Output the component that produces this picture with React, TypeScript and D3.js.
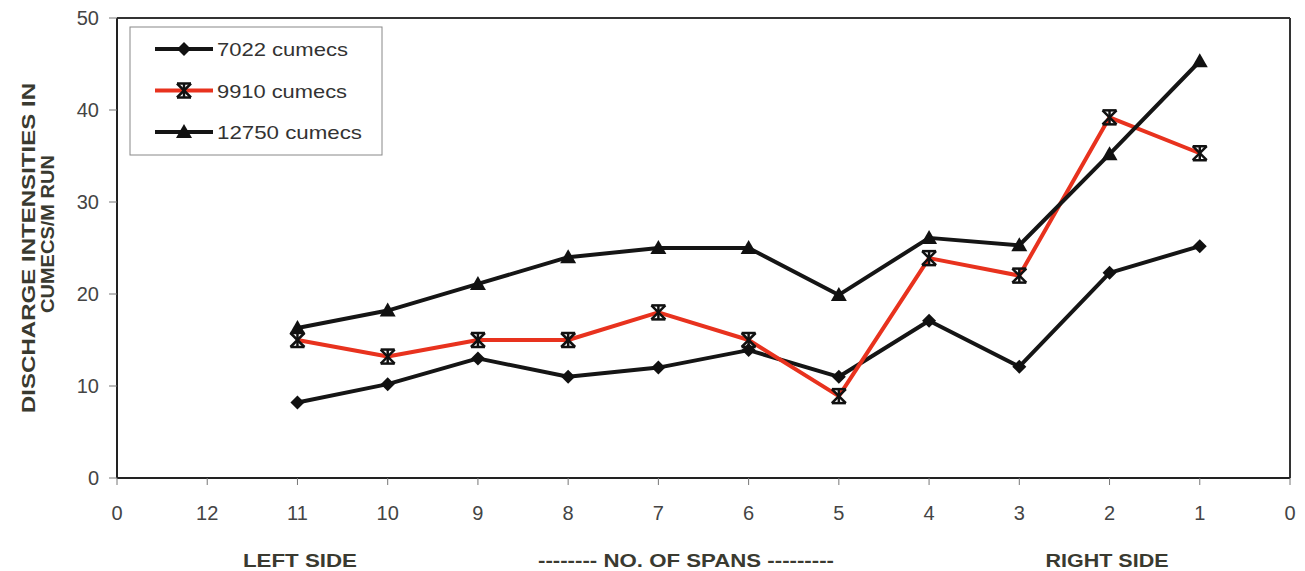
import React from "react";
import * as d3 from "d3";

const xLabels = ["0", "12", "11", "10", "9", "8", "7", "6", "5", "4", "3", "2", "1", "0"];
const spans = ["11", "10", "9", "8", "7", "6", "5", "4", "3", "2", "1"];
const s7022 = [8.2, 10.2, 13.0, 11.0, 12.0, 13.9, 11.0, 17.1, 12.1, 22.3, 25.2];
const s9910 = [15.0, 13.2, 15.0, 15.0, 18.0, 15.0, 8.9, 23.9, 22.0, 39.2, 35.3];
const s12750 = [16.3, 18.2, 21.1, 24.0, 25.0, 25.0, 19.9, 26.1, 25.3, 35.2, 45.3];
const yTicks = [0, 10, 20, 30, 40, 50];
const seriesNames = ["7022 cumecs", "9910 cumecs", "12750 cumecs"];
const legendTextLen = [131, 130, 145];

const W = 1305, H = 571;
const L = 117, R = 1290, T = 18, B = 478;

function Marker({ kind, x, y }: { kind: string; x: number; y: number }) {
  if (kind === "diamond") {
    const s = 7;
    return <path d={`M${x},${y - s}L${x + s},${y}L${x},${y + s}L${x - s},${y}Z`} fill="#111" />;
  }
  if (kind === "star") {
    const s = 7;
    return (
      <g stroke="#111" strokeWidth={2.5}>
        <line x1={x - s} y1={y - s} x2={x + s} y2={y + s} />
        <line x1={x - s} y1={y + s} x2={x + s} y2={y - s} />
        <line x1={x} y1={y - s} x2={x} y2={y + s} />
        <line x1={x - s} y1={y - s} x2={x + s} y2={y - s} />
        <line x1={x - s} y1={y + s} x2={x + s} y2={y + s} />
      </g>
    );
  }
  const s = 8;
  return <path d={`M${x},${y - s}L${x + s},${y + s * 0.75}L${x - s},${y + s * 0.75}Z`} fill="#111" />;
}

export default function App() {
  const x = d3.scalePoint<number>().domain(d3.range(xLabels.length)).range([L, R]);
  const y = d3.scaleLinear().domain([0, 50]).range([B, T]);
  const series = [
    { vals: s7022, color: "#151515", kind: "diamond" },
    { vals: s9910, color: "#e8321e", kind: "star" },
    { vals: s12750, color: "#151515", kind: "triangle" },
  ];
  const xi = (i: number) => x(xLabels.indexOf(spans[i], 1))!;
  const line = d3.line<number>().x((_, i) => xi(i)).y((v) => y(v));
  const font = "Arial, 'Liberation Sans', sans-serif";
  return (
    <svg width={W} height={H} style={{ position: "absolute", left: 0, top: 0, background: "#fff" }} fontFamily={font}>
      <line x1={L} y1={T} x2={R} y2={T} stroke="#333" strokeWidth={2} />
      <line x1={R} y1={T} x2={R} y2={B} stroke="#333" strokeWidth={2} />
      <line x1={L} y1={T} x2={L} y2={B} stroke="#222" strokeWidth={2} />
      <line x1={L} y1={B} x2={R} y2={B} stroke="#222" strokeWidth={2} />
      {yTicks.map((t) => (
        <g key={t}>
          <line x1={L - 8} x2={L} y1={y(t)} y2={y(t)} stroke="#777" strokeWidth={1} />
          <text x={99} y={y(t) + 7} textAnchor="end" fontSize={20} fill="#444">{t}</text>
        </g>
      ))}
      {xLabels.map((lab, i) => (
        <g key={i}>
          <line x1={x(i)} x2={x(i)} y1={B} y2={B + 7} stroke="#777" strokeWidth={1} />
          <text x={x(i)} y={B + 42} textAnchor="middle" fontSize={20} fill="#444">{lab}</text>
        </g>
      ))}
      {series.map((s, k) => (
        <g key={k}>
          <path d={line(s.vals)!} fill="none" stroke={s.color} strokeWidth={4} strokeLinejoin="round" />
          {s.vals.map((v, i) => (
            <Marker key={i} kind={s.kind} x={xi(i)} y={y(v)} />
          ))}
        </g>
      ))}
      <rect x={130} y={27} width={252} height={128} fill="#fff" stroke="#888" strokeWidth={1} />
      {series.map((s, k) => {
        const ly = 49 + k * 41.5;
        return (
          <g key={k}>
            <line x1={155} x2={213} y1={ly} y2={ly} stroke={s.color} strokeWidth={4} />
            <Marker kind={s.kind} x={184} y={ly} />
            <text x={217} y={ly + 7} fontSize={19} fill="#333" textLength={legendTextLen[k]} lengthAdjust="spacingAndGlyphs">{seriesNames[k]}</text>
          </g>
        );
      })}
      <g fontWeight="bold" fontSize={19} fill="#3a3a30">
        <text transform="translate(35,248) rotate(-90)" textAnchor="middle" textLength={330} lengthAdjust="spacingAndGlyphs">DISCHARGE INTENSITIES IN</text>
        <text transform="translate(54,234) rotate(-90)" textAnchor="middle" textLength={158} lengthAdjust="spacingAndGlyphs">CUMECS/M RUN</text>
      </g>
      <g fontWeight="bold" fontSize={19} fill="#3a3a30">
        <text x={300} y={567} textAnchor="middle" textLength={114} lengthAdjust="spacingAndGlyphs">LEFT SIDE</text>
        <text x={686} y={567} textAnchor="middle" textLength={296} lengthAdjust="spacingAndGlyphs">-------- NO. OF SPANS ---------</text>
        <text x={1107} y={567} textAnchor="middle" textLength={123} lengthAdjust="spacingAndGlyphs">RIGHT SIDE</text>
      </g>
    </svg>
  );
}
